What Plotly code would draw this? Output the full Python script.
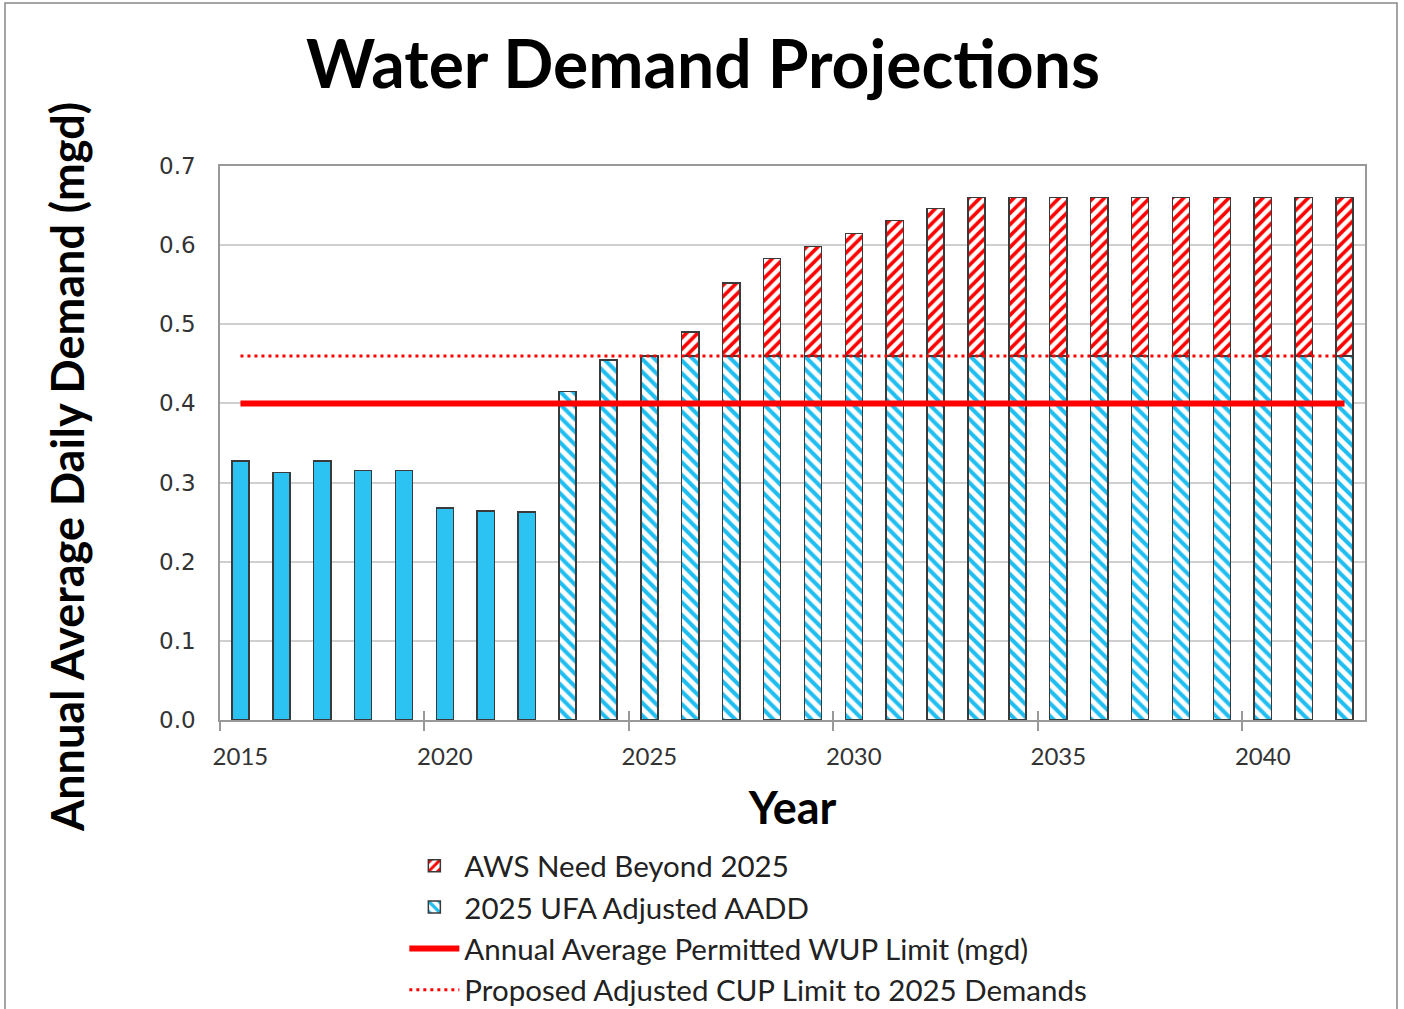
import plotly.graph_objects as go

years = list(range(2015, 2043))
hist_years = list(range(2015, 2023))
hist_values = [0.327, 0.313, 0.327, 0.315, 0.315, 0.268, 0.264, 0.263]
proj_years = list(range(2023, 2043))
ufa_values = [0.415, 0.455] + [0.46] * 18
aws_values = [0.0, 0.0, 0.0, 0.03, 0.092, 0.123, 0.138, 0.155, 0.171, 0.186] + [0.2] * 10
wup_limit = [0.40] * len(years)
cup_limit = [0.46] * len(years)
tick_years = [2015, 2020, 2025, 2030, 2035, 2040]
tick_labels = [str(y) for y in tick_years]
boundary_ticks = [2014.5, 2019.5, 2024.5, 2029.5, 2034.5, 2039.5]

BLUE = "#2CC3F2"
RED = "#FF0000"
OUTLINE = "#3a3a3a"

fig = go.Figure()

fig.add_trace(go.Bar(
    x=hist_years, y=hist_values, width=0.42, showlegend=False,
    marker=dict(color=BLUE, line=dict(color=OUTLINE, width=1.5)),
))
fig.add_trace(go.Bar(
    x=proj_years, y=ufa_values, width=0.42, name="2025 UFA Adjusted AADD",
    legendrank=2,
    marker=dict(color="white", line=dict(color=OUTLINE, width=1.5),
                pattern=dict(shape="\\", fgcolor="#1FBDF0", bgcolor="white",
                             fgopacity=1, size=9, solidity=0.45, fillmode="overlay")),
))
fig.add_trace(go.Bar(
    x=proj_years, y=aws_values, width=0.42, name="AWS Need Beyond 2025",
    legendrank=1,
    marker=dict(color="white", line=dict(color=OUTLINE, width=1.5),
                pattern=dict(shape="/", fgcolor=RED, bgcolor="white",
                             fgopacity=1, size=8, solidity=0.45, fillmode="overlay")),
))
fig.add_trace(go.Scatter(
    x=years, y=wup_limit, mode="lines", name="Annual Average Permitted WUP Limit (mgd)",
    legendrank=3, line=dict(color=RED, width=6),
))
fig.add_trace(go.Scatter(
    x=years, y=cup_limit, mode="lines", name="Proposed Adjusted CUP Limit to 2025 Demands",
    legendrank=4, line=dict(color=RED, width=3, dash="3px,4px"),
))

W, H = 1404, 1009
fig.update_layout(
    width=W, height=H,
    paper_bgcolor="white", plot_bgcolor="white",
    margin=dict(l=220, r=39, t=166, b=289),
    barmode="stack",
    title=dict(text="<b>Water Demand Projections</b>", x=703 / W, xref="container",
               xanchor="center", y=1 - 65 / H, yref="container", yanchor="middle",
               font=dict(family="Lato", size=66, color="black")),
    showlegend=True,
    legend=dict(x=0.161, xref="paper", y=1 - 840 / H, yref="container",
                xanchor="left", yanchor="top",
                traceorder="normal",
                font=dict(family="Lato", size=29.5, color="#222"),
                bgcolor="rgba(0,0,0,0)", itemwidth=50),
    xaxis=dict(
        range=[2014.5, 2042.5], tickvals=tick_years, ticktext=tick_labels,
        ticks="", showgrid=False, zeroline=False, automargin=False,
        showline=True, linecolor="#999", linewidth=1.5, mirror=True,
        ticklabelstandoff=14,
        tickfont=dict(family="Lato", size=24, color="#333"),
        minor=dict(tickvals=boundary_ticks,
                   ticks="outside", ticklen=9, tickcolor="#999", tickwidth=1.5,
                   showgrid=False),
        title=dict(text="<b>Year</b>", font=dict(family="Lato", size=45, color="black"),
                   standoff=24),
    ),
    xaxis2=dict(
        overlaying="x", matches="x", side="bottom", anchor="y",
        tickvals=boundary_ticks, ticks="inside", ticklen=9, tickcolor="#999",
        tickwidth=1.5, showticklabels=False, showgrid=False, zeroline=False,
        showline=False, automargin=False,
    ),
    yaxis=dict(
        range=[0, 0.7], dtick=0.1, tickformat=".1f",
        showgrid=True, gridcolor="#cfcfcf", gridwidth=1.5,
        showline=True, linecolor="#999", linewidth=1.5, mirror=True,
        zeroline=False, ticks="", ticklabelstandoff=18, automargin=False,
        tickfont=dict(family="DejaVu Sans", size=23, color="#333"),
    ),
    annotations=[dict(text="<b>Annual Average Daily Demand (mgd)</b>",
                      xref="paper", yref="paper",
                      x=(67 - 220) / 1145, y=(720 - 467) / 554,
                      xanchor="center", yanchor="middle", textangle=-90,
                      showarrow=False,
                      font=dict(family="Lato", size=45, color="black"))],
    shapes=[dict(type="rect", xref="paper", yref="paper",
                 x0=(5 - 220) / 1145, x1=(1397 - 220) / 1145,
                 y0=-0.53, y1=(720 - 3) / 554,
                 line=dict(color="#888", width=1.5), fillcolor="rgba(0,0,0,0)",
                 layer="below")],
)
# invisible helper trace so the boundary-tick axis (xaxis2) is rendered
fig.add_trace(go.Scatter(x=[2014.5], y=[0], xaxis="x2", mode="markers",
                         marker=dict(opacity=0), showlegend=False, hoverinfo="skip"))

fig.write_html(
    "out.html",
    config={"displayModeBar": False},
    post_script="document.body.style.margin='0';document.body.style.overflow='hidden';",
)
